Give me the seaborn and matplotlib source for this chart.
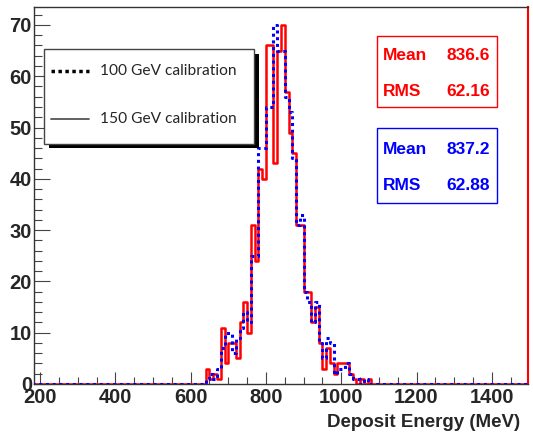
import numpy as np
import pandas as pd
import seaborn as sns
import matplotlib.pyplot as plt
from matplotlib.lines import Line2D
from matplotlib.patches import Rectangle
from matplotlib.ticker import MultipleLocator

# histogram contents, 10 MeV bins starting at 630 MeV
bin_width = 10
first_bin = 630
counts_150 = [0, 3, 1, 2, 1, 11, 4, 8, 8, 5, 12, 16, 10, 31, 24, 42, 40, 66, 66, 43,
              65, 70, 57, 49, 45, 31, 31, 18, 18, 12, 15, 8, 3, 7, 4, 2, 4, 4, 4, 2,
              1, 0, 1, 0, 1, 0]
counts_100 = [0, 1, 2, 1, 3, 7, 10, 10, 6, 9, 11, 14, 12, 25, 25, 46, 46, 54, 54, 70,
              65, 65, 56, 53, 44, 31, 33, 18, 16, 12, 16, 8, 5, 9, 8, 2, 3, 3, 4, 2,
              1, 1, 0, 1, 0, 0]
stats_150 = ("836.6", "62.16")
stats_100 = ("837.2", "62.88")
legend_labels = ["100 GeV calibration", "150 GeV calibration"]

edges = np.arange(180, 1501, bin_width)
centers = edges[:-1] + bin_width / 2


def full(counts):
    c = np.zeros(len(centers))
    i0 = (first_bin - 180) // bin_width
    c[i0:i0 + len(counts)] = counts
    return c


df = pd.DataFrame({"energy": centers, "n150": full(counts_150), "n100": full(counts_100)})

sns.set_style("ticks")
plt.rcParams["font.family"] = ["Liberation Sans", "DejaVu Sans"]

fig = plt.figure(figsize=(5.33, 4.36), dpi=100)
ax = fig.add_axes([0.0638, 0.1193, 0.9268, 0.8647])

sns.histplot(data=df, x="energy", weights="n150", binwidth=bin_width, binrange=(180, 1500),
             element="step", fill=False, color="red", linewidth=1.8, zorder=3, ax=ax)
sns.histplot(data=df, x="energy", weights="n100", binwidth=bin_width, binrange=(180, 1500),
             element="step", fill=False, color="blue", linewidth=2.2,
             linestyle=(0, (1, 1.2)), zorder=3.1, ax=ax)

ax.set_xlim(184, 1496)
ax.set_ylim(0, 73.5)
ax.set_ylabel("")
ax.set_xlabel("Deposit Energy (MeV)", fontsize=13.5, fontweight="bold", ha="right")
ax.xaxis.set_label_coords(0.984, -0.08)

ax.xaxis.set_major_locator(MultipleLocator(200))
ax.xaxis.set_minor_locator(MultipleLocator(50))
ax.yaxis.set_major_locator(MultipleLocator(10))
ax.yaxis.set_minor_locator(MultipleLocator(2))
ax.tick_params(axis="x", which="major", direction="in", length=8.6, width=0.8,
               color="#444", pad=3, labelsize=14.5)
ax.tick_params(axis="x", which="minor", direction="in", length=5, width=0.8, color="#444")
ax.tick_params(axis="y", which="major", direction="in", length=11.5, width=0.8,
               color="#444", pad=1.5, labelsize=14.5)
ax.tick_params(axis="y", which="minor", direction="in", length=5.8, width=0.8, color="#444")
for lab in ax.get_xticklabels() + ax.get_yticklabels():
    lab.set_fontweight("bold")

for side in ["left", "top", "bottom"]:
    ax.spines[side].set_color("#333")
    ax.spines[side].set_linewidth(1)
ax.spines["right"].set_color("red")
ax.spines["right"].set_linewidth(1.5)


def px(x, y):
    return (x - 34) / 494, (384 - y) / 377


def box(x0p, y0p, x1p, y1p, **kw):
    x0, y1 = px(x0p, y1p)
    x1, y0 = px(x1p, y0p)
    ax.add_patch(Rectangle((x0, y1), x1 - x0, y0 - y1, transform=ax.transAxes, **kw))


# legend with drop shadow
box(49, 54, 259, 148, facecolor="black", edgecolor="none", zorder=5)
box(44, 49, 254, 144, facecolor="white", edgecolor="#444", lw=1, zorder=5.1)
legend_styles = [dict(color="black", lw=2.5, linestyle=(0, (1, 1))),
                 dict(color="#555", lw=1.3)]
for label, style, yy in zip(legend_labels, legend_styles, [71.5, 119]):
    (xa, ya), (xb, _) = px(51, yy), px(89, yy)
    ax.add_line(Line2D([xa, xb], [ya, ya], transform=ax.transAxes, zorder=5.2, **style))
    ax.text(*px(100, yy), label, transform=ax.transAxes, family="Lato", fontsize=11.2,
            ha="left", va="center", zorder=5.2)


def stat_box(top, bottom, color, values, y1, y2):
    box(377, top, 497, bottom, facecolor="white", edgecolor=color, lw=1, zorder=5)
    for name, val, yy in [("Mean", values[0], y1), ("RMS", values[1], y2)]:
        ax.text(*px(383, yy), name, transform=ax.transAxes, color=color, fontsize=12.5,
                fontweight="bold", ha="left", va="center", zorder=6)
        ax.text(*px(490, yy), val, transform=ax.transAxes, color=color, fontsize=12.5,
                fontweight="bold", ha="right", va="center", zorder=6)


stat_box(36, 107, "red", stats_150, 56, 92)
stat_box(128, 203, "blue", stats_100, 150, 186)

fig.savefig("out.png", dpi=100)
